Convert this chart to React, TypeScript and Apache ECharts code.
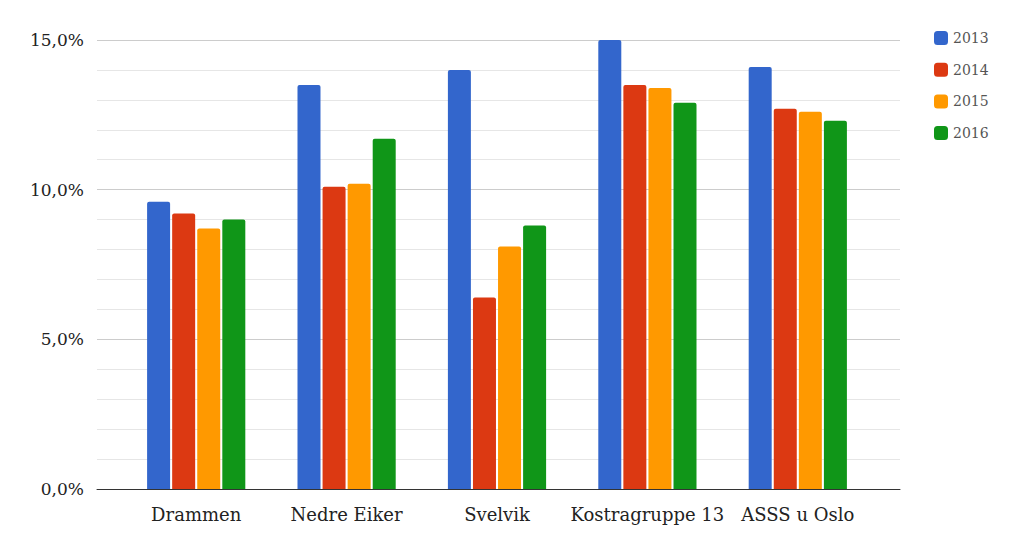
import React, { useEffect, useRef } from "react";
import * as echarts from "echarts";

const categories = ["Drammen", "Nedre Eiker", "Svelvik", "Kostragruppe 13", "ASSS u Oslo"];
const seriesNames = ["2013", "2014", "2015", "2016"];
const v2013 = [9.6, 13.5, 14.0, 15.0, 14.1];
const v2014 = [9.2, 10.1, 6.4, 13.5, 12.7];
const v2015 = [8.7, 10.2, 8.1, 13.4, 12.6];
const v2016 = [9.0, 11.7, 8.8, 12.9, 12.3];
const colors = ["#3366cc", "#dc3912", "#ff9900", "#109618"];

const FONT = "DejaVu Serif";

export default function App() {
  const ref = useRef<HTMLDivElement>(null);
  useEffect(() => {
    const chart = echarts.init(ref.current!, null, { renderer: "svg" });
    const values = [v2013, v2014, v2015, v2016];
    chart.setOption({
      animation: false,
      color: colors,
      textStyle: { fontFamily: FONT },
      legend: {
        orient: "vertical",
        left: 929,
        top: 25,
        itemWidth: 14,
        itemHeight: 14,
        itemGap: 15.7,
        icon: "roundRect",
        data: seriesNames,
        textStyle: { fontFamily: FONT, fontSize: 14, color: "#555", lineHeight: 16 },
      },
      grid: [
        { left: 97, right: 124, top: 40, bottom: 63, containLabel: false },
        { left: 121, right: 151, top: 40, bottom: 63, containLabel: false },
      ],
      xAxis: [
        {
          gridIndex: 0,
          type: "value",
          min: 0,
          max: 1,
          axisLine: { show: true, onZero: false, lineStyle: { color: "#333", width: 1 } },
          axisTick: { show: false },
          axisLabel: { show: false },
          splitLine: { show: false },
        },
        {
          gridIndex: 1,
          type: "category",
          data: categories,
          axisLine: { show: false },
          axisTick: { show: false },
          axisLabel: { interval: 0, fontFamily: FONT, fontSize: 18, color: "#222", margin: 16 },
        },
      ],
      yAxis: [
        {
          gridIndex: 0,
          type: "value",
          min: 0,
          max: 15,
          interval: 5,
          axisLine: { show: false },
          axisTick: { show: false },
          axisLabel: {
            fontFamily: FONT,
            fontSize: 17,
            color: "#222",
            margin: 13,
            formatter: (v: number) => v.toFixed(1).replace(".", ",") + "%",
          },
          splitLine: { show: true, lineStyle: { color: "#cccccc" } },
          minorTick: { show: false, splitNumber: 5 },
          minorSplitLine: { show: true, lineStyle: { color: "#e6e6e6" } },
        },
        {
          gridIndex: 1,
          type: "value",
          min: 0,
          max: 15,
          show: false,
          splitLine: { show: false },
        },
      ],
      series: seriesNames.map((name, i) => ({
        name,
        type: "bar",
        xAxisIndex: 1,
        yAxisIndex: 1,
        data: values[i],
        barWidth: 23,
        barGap: "9%",
        itemStyle: { color: colors[i], borderRadius: [2, 2, 0, 0] },
      })),
    });
    return () => chart.dispose();
  }, []);
  return <div ref={ref} style={{ width: 1024, height: 552, margin: -8 }} />;
}
